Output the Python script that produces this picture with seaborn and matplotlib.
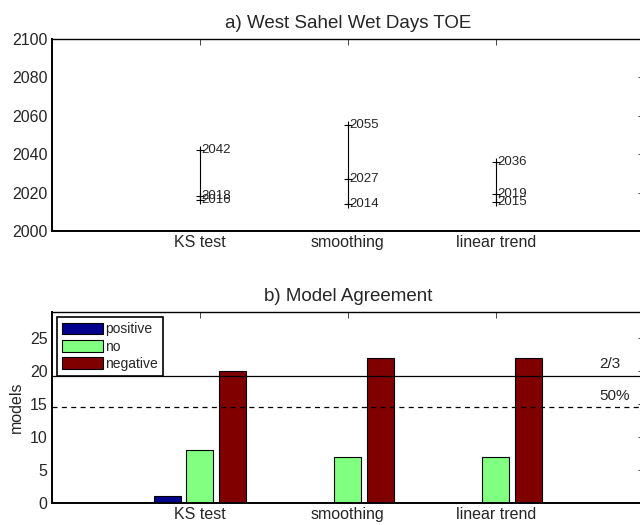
import matplotlib
matplotlib.use("Agg")
import matplotlib.pyplot as plt
import seaborn as sns
import pandas as pd

methods = ["KS test", "smoothing", "linear trend"]
toe_high = [2042, 2055, 2036]
toe_mid = [2018, 2027, 2019]
toe_low = [2016, 2014, 2015]

agreement = ["positive", "no", "negative"]
n_positive = [1, 0, 0]
n_no = [8, 7, 7]
n_negative = [20, 22, 22]
n_models = 29

sns.set_style("white")
plt.rcParams["font.family"] = ["Liberation Sans", "DejaVu Sans"]

fig = plt.figure(figsize=(6.4, 5.25), dpi=100)
ax1 = fig.add_axes([0.081, 0.56, 0.925, 0.366])
ax2 = fig.add_axes([0.081, 0.042, 0.925, 0.364])

# a) time of emergence
toe = pd.DataFrame({
    "method": methods * 3,
    "year": toe_high + toe_mid + toe_low,
})
for i, m in enumerate(methods):
    ax1.plot([i, i], [min(toe_low[i], toe_mid[i]), toe_high[i]], color="black", lw=0.8)
sns.scatterplot(data=toe, x="method", y="year", marker="+", color="black",
                s=40, linewidth=0.8, ax=ax1, zorder=3)
for _, r in toe.iterrows():
    ax1.text(methods.index(r["method"]) + 0.01, r["year"], str(r["year"]),
             ha="left", va="center", fontsize=9.5)
ax1.set_xlim(-1, 3)
ax1.set_ylim(2000, 2100)
ax1.set_yticks(range(2000, 2101, 20))
ax1.set_xlabel("")
ax1.set_ylabel("")
ax1.set_title("a) West Sahel Wet Days TOE", fontsize=13.5, pad=8)

# b) model agreement
agr = pd.DataFrame({
    "method": methods * 3,
    "sign": [a for a in agreement for _ in methods],
    "models": n_positive + n_no + n_negative,
})
sns.barplot(data=agr, x="method", y="models", hue="sign", hue_order=agreement,
            palette=["#00008F", "#80FF80", "#800000"], width=0.66, gap=0.18,
            edgecolor="black", linewidth=0.8, saturation=1, ax=ax2)
ax2.axhline(n_models * 2 / 3, color="black", lw=0.9)
ax2.axhline(n_models / 2, color="black", lw=0.9, ls=(0, (4, 3.5)))
ax2.annotate("2/3", (2.70, n_models * 2 / 3), xytext=(0, 3), textcoords="offset points",
             ha="left", va="bottom", fontsize=11)
ax2.annotate("50%", (2.70, n_models / 2), xytext=(0, 3), textcoords="offset points",
             ha="left", va="bottom", fontsize=11)
ax2.set_xlim(-1, 3)
ax2.set_ylim(0, n_models)
ax2.set_yticks(range(0, 26, 5))
ax2.set_xlabel("")
ax2.set_ylabel("models", fontsize=11.5)
ax2.set_title("b) Model Agreement", fontsize=13.5, pad=8)
leg = ax2.legend(loc="upper left", fontsize=10, handlelength=2.9, handleheight=0.95,
                 handletextpad=0.2, labelspacing=0.25, borderaxespad=0.4,
                 borderpad=0.35, fancybox=False, framealpha=1)
leg.get_frame().set_edgecolor("black")
leg.get_frame().set_linewidth(1.2)

for ax in (ax1, ax2):
    ax.set_xticks(range(len(methods)))
    ax.set_xticklabels(methods)
    ax.tick_params(direction="in", length=4.5, width=0.6, top=True, right=True,
                   labelsize=11.5, pad=3)
    for s in ax.spines.values():
        s.set_color("black")
        s.set_linewidth(1.0)
    ax.spines["left"].set_linewidth(1.4)
    ax.spines["bottom"].set_linewidth(1.4)

fig.savefig("out.png", dpi=100)
